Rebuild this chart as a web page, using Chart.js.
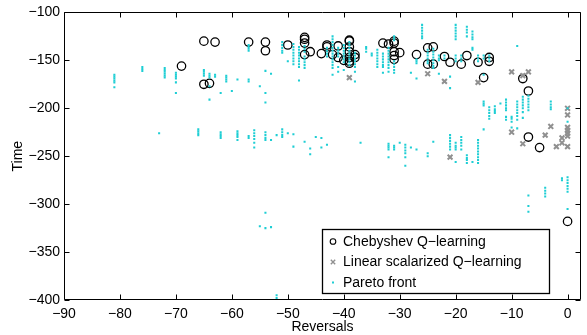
<!DOCTYPE html>
<html>
<head>
<meta charset="utf-8">
<script src="https://cdn.jsdelivr.net/npm/chart.js@4/dist/chart.umd.min.js"></script>
<style>
html,body{margin:0;padding:0;background:#fff;}
canvas{display:block;}
</style>
</head>
<body>
<canvas id="c" width="587" height="335"></canvas>
<script>
// ---- data ----
const xTicks = [-90, -80, -70, -60, -50, -40, -30, -20, -10, 0];
const yTicks = [-400, -350, -300, -250, -200, -150, -100];
const seriesNames = ['Chebyshev Q\u2212learning', 'Linear scalarized Q\u2212learning', 'Pareto front'];
const axisTitles = ['Reversals', 'Time'];

const chebyshevPts = [
  [-69,-156], [-65,-130], [-63,-131], [-57,-131], [-54,-131], [-54,-140], [-65,-175], [-64,-174],
  [-50,-134], [-47,-126], [-47,-128], [-47,-132], [-47,-144], [-46,-141], [-44,-143], [-43,-134],
  [-43,-136], [-42,-144], [-41,-135], [-41,-147], [-40,-150], [-39,-129], [-39,-130], [-39,-136],
  [-39,-141], [-39,-147], [-39,-151], [-39,-153], [-38,-144], [-38,-147], [-33,-132], [-32,-133],
  [-31,-130], [-31,-132], [-31,-141], [-31,-145], [-31,-149], [-30,-142], [-27,-144], [-25,-137],
  [-24,-136], [-25,-154], [-24,-154], [-22,-146], [-21,-152], [-19,-154], [-18,-145], [-16,-152],
  [-14,-147], [-14,-151], [-15,-168], [-8,-169], [-7,-182], [-7,-230], [-5,-241], [0,-318]
];

const linearPts = [
  [-39,-168], [-25,-164], [-22,-172], [-16,-173], [-10,-162], [-8,-166], [-7,-162], [-21,-251],
  [-10,-225], [-8,-237], [-3,-219], [-4,-228], [-2,-240], [-1,-231], [-1,-236], [0,-200],
  [0,-207], [0,-220], [0,-223], [0,-226], [0,-229], [0,-240]
];

// Pareto front: [reversals, [time values]]
const paretoCols = [
  [-81, [-165,-167,-169,-171,-173,-178]],
  [-76, [-157,-159,-161]],
  [-73, [-226]],
  [-72, [-158,-160,-162,-164,-166,-168]],
  [-70, [-163,-165,-167,-169,-173,-184]],
  [-66, [-222,-224,-226,-228]],
  [-65, [-160,-162,-164,-166]],
  [-64, [-164,-166,-168,-177,-191]],
  [-63, [-165,-167]],
  [-62, [-184,-225,-227,-229,-231]],
  [-61, [-166,-168,-170,-172]],
  [-60, [-182]],
  [-59, [-170,-224,-226,-228,-230,-233]],
  [-57, [-134,-136,-138,-140,-170,-172,-229,-231]],
  [-56, [-223,-226,-229,-232,-236,-241]],
  [-55, [-177,-323,-400]],
  [-54, [-161,-184,-194,-225,-228,-231,-233,-309,-325]],
  [-53, [-164,-233,-324]],
  [-52, [-228,-395,-398]],
  [-51, [-131,-134,-137,-140,-142,-222,-225,-228,-230]],
  [-50, [-151,-226]],
  [-49, [-133,-136,-139,-142,-145,-148,-151,-154,-227,-240]],
  [-48, [-136,-139,-142,-145,-148,-151,-154,-157,-171]],
  [-47, [-135,-138,-141,-146,-149,-152,-155,-158,-235]],
  [-46, [-242,-248]],
  [-45, [-230]],
  [-44, [-231,-241]],
  [-43, [-137,-140,-143,-146,-238]],
  [-42, [-125,-128,-131,-134,-137,-140,-143,-146,-149,-152,-155,-158,-165]],
  [-41, [-137,-140,-143,-146,-157,-162]],
  [-40, [-134,-137,-140,-143,-146,-149,-152,-160]],
  [-39, [-131,-134,-137,-140,-143,-146,-149,-152,-155]],
  [-38, [-142,-145,-148,-151,-154,-157,-162,-172]],
  [-37, [-236]],
  [-36, [-136,-138,-141]],
  [-35, [-143,-145]],
  [-34, [-139,-142,-145,-148,-151,-154,-157]],
  [-33, [-143,-146,-149,-152,-155,-157,-163]],
  [-32, [-137,-140,-143,-146,-149,-152,-155,-158,-162,-237,-239,-241,-243,-251]],
  [-31, [-125,-127,-129,-151,-154,-157,-160,-163,-239,-241,-243]],
  [-30, [-236]],
  [-29, [-238,-241,-244,-247,-251,-260]],
  [-28, [-163,-241]],
  [-27, [-149,-151,-153,-169,-243]],
  [-26, [-113,-116,-119,-122,-125,-127]],
  [-25, [-139,-142,-145,-148,-151,-153,-247,-250]],
  [-24, [-138,-141,-144,-147,-150,-153,-156,-158,-235]],
  [-23, [-145,-148,-150,-164]],
  [-22, [-145,-148]],
  [-21, [-167,-179,-228,-231,-234,-237,-240,-243]],
  [-20, [-113,-116,-119,-122,-125,-128,-145,-148,-151,-236,-239,-241,-243,-256]],
  [-19, [-145,-148,-151,-230,-233,-236,-239,-243]],
  [-18, [-115,-118,-121,-125,-249,-252,-254,-257]],
  [-17, [-120,-123,-126,-128,-137,-139,-256]],
  [-16, [-145,-148,-151,-233,-236,-239,-242,-245,-248,-251,-254,-257]],
  [-15, [-145,-148,-165,-193,-195,-197,-222]],
  [-14, [-145,-148,-151,-199,-202,-205,-208,-211]],
  [-13, [-198,-201,-203,-205]],
  [-12, [-195]],
  [-11, [-191,-194,-197,-200,-202,-209,-212]],
  [-10, [-209,-211,-214,-220]],
  [-9, [-135,-193,-196,-199,-202,-205,-208,-212,-221]],
  [-8, [-188,-191,-194,-197,-200,-204,-210]],
  [-7, [-187,-190,-193,-196,-199,-202,-291,-302,-308]],
  [-4, [-283,-286,-289,-292]],
  [-3, [-193,-196,-199,-201]],
  [-1, [-273,-275]],
  [0, [-200,-214,-272,-275,-278,-281,-284,-287,-305]]
];

// ---- build chart data from the arrays ----
const toXY = pts => pts.map(p => ({x: p[0], y: p[1]}));
const paretoPts = [];
paretoCols.forEach(c => c[1].forEach(v => paretoPts.push({x: c[0], y: v})));

const FONT = 'Liberation Sans, Arial, Helvetica, sans-serif';
const minus = v => String(v).replace('-', '\u2212');

const styles = [
  {pointStyle: 'circle', pointRadius: 4.2, pointBorderWidth: 1.3, pointBorderColor: '#000', pointBackgroundColor: 'rgba(0,0,0,0)'},
  {pointStyle: 'crossRot', pointRadius: 3.4, pointBorderWidth: 2, pointBorderColor: '#909090', pointBackgroundColor: '#909090'},
  {pointStyle: 'rect', pointRadius: 1.45, pointBorderWidth: 0, pointBorderColor: 'rgba(0,0,0,0)', pointBackgroundColor: 'rgb(30,206,212)'}
];

const frame = {
  id: 'frame',
  afterDatasetsDraw(chart) {
    const {ctx, chartArea: a, scales} = chart;
    const L = Math.round(a.left) + 0.5, R = Math.round(a.right) - 0.5;
    const T = Math.round(a.top) + 0.5, B = Math.round(a.bottom) - 0.5;
    ctx.save();
    ctx.strokeStyle = '#000';
    ctx.lineWidth = 1;
    ctx.beginPath();
    ctx.moveTo(L, T); ctx.lineTo(R, T); ctx.lineTo(R, B); ctx.lineTo(L, B); ctx.closePath();
    const tl = 5;
    xTicks.forEach(v => {
      const p = Math.round(scales.x.getPixelForValue(v)) + 0.5;
      ctx.moveTo(p, B); ctx.lineTo(p, B - tl);
      ctx.moveTo(p, T); ctx.lineTo(p, T + tl);
    });
    yTicks.forEach(v => {
      const p = Math.round(scales.y.getPixelForValue(v)) + 0.5;
      ctx.moveTo(L, p); ctx.lineTo(L + tl, p);
      ctx.moveTo(R, p); ctx.lineTo(R - tl, p);
    });
    ctx.stroke();
    ctx.restore();
  },
  afterDraw(chart) {
    const {ctx} = chart;
    const bx = 322.5, by = 229.5, bw = 227, bh = 64;
    ctx.save();
    ctx.fillStyle = '#fff';
    ctx.fillRect(bx, by, bw, bh);
    ctx.strokeStyle = '#000';
    ctx.lineWidth = 1.3;
    ctx.strokeRect(bx, by, bw, bh);
    const rows = [241.5, 262, 282.5];
    const mx = 333;
    ctx.font = '14px ' + FONT;
    ctx.textBaseline = 'middle';
    ctx.fillStyle = '#000';
    chart.data.datasets.forEach((ds, i) => {
      const y = rows[i];
      ctx.save();
      if (i === 0) {
        ctx.strokeStyle = '#000'; ctx.lineWidth = 1.1;
        ctx.beginPath(); ctx.arc(mx, y, 2.8, 0, Math.PI * 2); ctx.stroke();
      } else if (i === 1) {
        ctx.strokeStyle = '#909090'; ctx.lineWidth = 1.4;
        ctx.beginPath();
        ctx.moveTo(mx - 2.2, y - 2.2); ctx.lineTo(mx + 2.2, y + 2.2);
        ctx.moveTo(mx + 2.2, y - 2.2); ctx.lineTo(mx - 2.2, y + 2.2);
        ctx.stroke();
      } else {
        ctx.fillStyle = 'rgb(30,206,212)';
        ctx.fillRect(mx - 1, y - 1, 2, 2);
      }
      ctx.restore();
      ctx.fillText(ds.label, 343, y + 0.5);
    });
    ctx.restore();
  }
};

new Chart(document.getElementById('c'), {
  type: 'scatter',
  data: {
    datasets: [
      Object.assign({label: seriesNames[0], data: toXY(chebyshevPts), order: 2}, styles[0]),
      Object.assign({label: seriesNames[1], data: toXY(linearPts), order: 1}, styles[1]),
      Object.assign({label: seriesNames[2], data: paretoPts, order: 0}, styles[2])
    ]
  },
  options: {
    responsive: false,
    animation: false,
    devicePixelRatio: 1,
    layout: {padding: {top: 12, right: 1, left: 0, bottom: 0}},
    plugins: {legend: {display: false}, tooltip: {enabled: false}},
    scales: {
      x: {
        type: 'linear', min: -90, max: 2.4,
        afterBuildTicks: s => { s.ticks = xTicks.map(v => ({value: v})); },
        afterFit: s => { s.height = 35; },
        grid: {display: false, drawTicks: false},
        border: {display: false},
        ticks: {color: '#000', font: {family: FONT, size: 14}, padding: 6, maxRotation: 0, autoSkip: false, callback: v => minus(v)},
        title: {display: true, text: axisTitles[0], color: '#000', font: {family: FONT, size: 14}, padding: {top: 0, bottom: -1}}
      },
      y: {
        type: 'linear', min: -400, max: -100,
        afterBuildTicks: s => { s.ticks = yTicks.map(v => ({value: v})); },
        afterFit: s => { s.width = 64; },
        grid: {display: false, drawTicks: false},
        border: {display: false},
        ticks: {color: '#000', font: {family: FONT, size: 14}, padding: 4, autoSkip: false, callback: v => minus(v)},
        title: {display: true, text: axisTitles[1], color: '#000', font: {family: FONT, size: 14}, padding: {top: 10, bottom: 0}}
      }
    }
  },
  plugins: [frame]
});
</script>
</body>
</html>
